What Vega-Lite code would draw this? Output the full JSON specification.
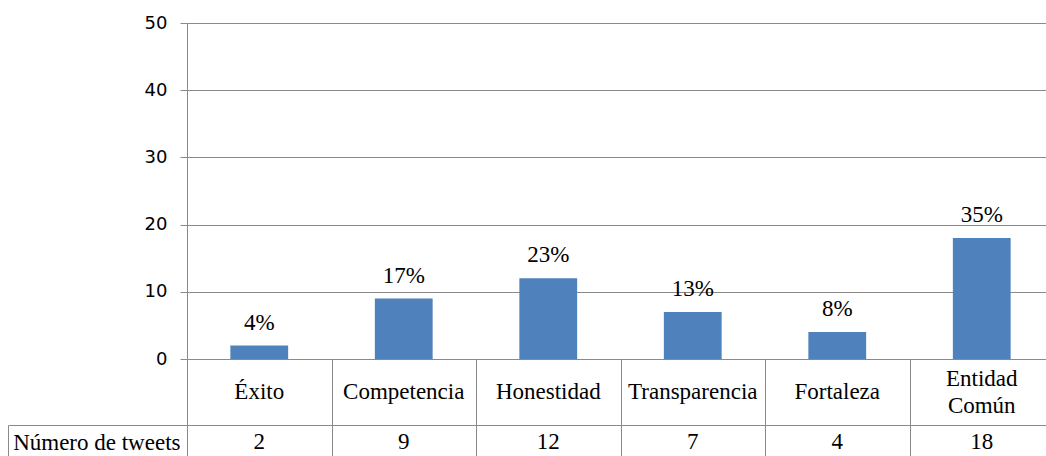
{
  "$schema": "https://vega.github.io/schema/vega-lite/v6.json",
  "padding": {"left": 7, "top": 14, "right": 0, "bottom": 0},
  "bounds": "flush",
  "spacing": 0,
  "config": {"view": {"stroke": null}, "concat": {"spacing": 0}},
  "data": {
    "values": [
      {"cat": "Éxito", "n": 2, "pct": "4%"},
      {"cat": "Competencia", "n": 9, "pct": "17%"},
      {"cat": "Honestidad", "n": 12, "pct": "23%"},
      {"cat": "Transparencia", "n": 7, "pct": "13%"},
      {"cat": "Fortaleza", "n": 4, "pct": "8%"},
      {"cat": "Entidad Común", "n": 18, "pct": "35%"}
    ]
  },
  "vconcat": [
    {
      "width": 867,
      "height": 336,
      "encoding": {
        "x": {"field": "cat", "type": "nominal", "sort": null, "scale": {"paddingInner": 0.6, "paddingOuter": 0.3}, "axis": null},
        "y": {"field": "n", "type": "quantitative", "scale": {"domain": [0, 50]},
          "axis": {"values": [0, 10, 20, 30, 40, 50], "grid": true, "gridColor": "#8a8a8a", "domainColor": "#8a8a8a", "tickColor": "#8a8a8a", "tickSize": 7, "labelPadding": 13, "labelFont": "DejaVu Sans", "labelFontSize": 18, "labelColor": "#000000", "title": null}}
      },
      "layer": [
        {"mark": {"type": "bar", "color": "#4f81bd"}},
        {"mark": {"type": "text", "baseline": "bottom", "dy": -11, "font": "Liberation Serif", "fontSize": 23, "color": "#000000"},
          "encoding": {"text": {"field": "pct"}}}
      ]
    },
    {
      "width": 867,
      "height": 66,
      "encoding": {
        "x": {"field": "cat", "type": "nominal", "sort": null, "scale": {"paddingInner": 0, "paddingOuter": 0},
          "axis": {"grid": true, "tickBand": "extent", "gridColor": "#8a8a8a", "labels": false, "ticks": false, "domain": false, "title": null}},
        "text": {"field": "cat"}
      },
      "layer": [
        {
          "transform": [{"filter": "indexof(datum.cat, ' ') < 0"}],
          "mark": {"type": "text", "font": "Liberation Serif", "fontSize": 23, "color": "#000000"}
        },
        {
          "transform": [{"filter": "indexof(datum.cat, ' ') >= 0"}],
          "mark": {"type": "text", "font": "Liberation Serif", "fontSize": 23, "lineBreak": " ", "lineHeight": 27, "dy": -13, "color": "#000000"}
        }
      ]
    },
    {
      "width": 867,
      "height": 34,
      "resolve": {"axis": {"y": "independent"}},
      "layer": [
        {
          "mark": {"type": "text", "font": "Liberation Serif", "fontSize": 23, "color": "#000000"},
          "encoding": {
            "x": {"field": "cat", "type": "nominal", "sort": null, "scale": {"paddingInner": 0, "paddingOuter": 0},
              "axis": {"orient": "top", "grid": true, "tickBand": "extent", "gridColor": "#8a8a8a", "domainColor": "#8a8a8a", "labels": false, "ticks": false, "domain": true, "title": null}},
            "y": {"datum": "Número de tweets", "type": "nominal",
              "axis": {"tickBand": "extent", "tickSize": 179, "tickColor": "#8a8a8a", "domainColor": "#8a8a8a", "labelPadding": -172, "labelFont": "Liberation Serif", "labelFontSize": 23, "labelColor": "#000000", "title": null}},
            "text": {"field": "n"}
          }
        },
        {
          "mark": {"type": "text"},
          "encoding": {
            "y": {"datum": "Número de tweets", "type": "nominal",
              "axis": {"orient": "left", "offset": 179, "labels": false, "ticks": false, "domain": true, "domainColor": "#8a8a8a", "title": null}},
            "text": {"value": ""}
          }
        }
      ]
    }
  ]
}
